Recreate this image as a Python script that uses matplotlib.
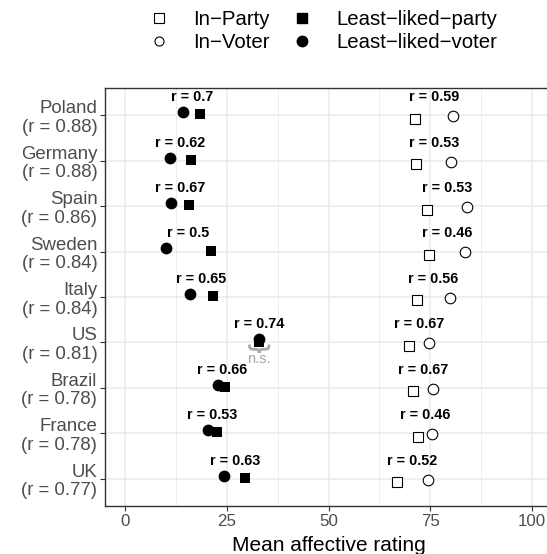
import matplotlib
matplotlib.use("Agg")
import matplotlib.pyplot as plt
from matplotlib.path import Path
from matplotlib.patches import PathPatch
from matplotlib.lines import Line2D
from matplotlib.ticker import MultipleLocator

plt.rcParams['font.family'] = ['Liberation Sans', 'DejaVu Sans']

# data
countries = ["Poland", "Germany", "Spain", "Sweden", "Italy", "US", "Brazil", "France", "UK"]
country_r = ["0.88", "0.88", "0.86", "0.84", "0.84", "0.81", "0.78", "0.78", "0.77"]

ll_voter = [14.3, 10.9, 11.3, 10.0, 15.8, 33.0, 22.9, 20.3, 24.4]
ll_party = [18.4, 16.1, 15.6, 21.1, 21.6, 32.9, 24.6, 22.5, 29.5]
in_party = [71.3, 71.6, 74.3, 74.8, 71.7, 69.7, 70.7, 72.0, 66.8]
in_voter = [80.6, 80.2, 84.0, 83.6, 79.9, 74.8, 75.8, 75.4, 74.4]

r_ll = ["0.7", "0.62", "0.67", "0.5", "0.65", "0.74", "0.66", "0.53", "0.63"]
r_in = ["0.59", "0.53", "0.53", "0.46", "0.56", "0.67", "0.67", "0.46", "0.52"]
ns_country = "US"

# small vertical dodge per series
dodge = {"ll_voter": -0.07, "ll_party": -0.02, "in_voter": 0.02, "in_party": 0.075}

fig = plt.figure(figsize=(5.47, 5.54), dpi=100)
ax = fig.add_axes([105/547, 48/554, 447/547, 418/554])

rows = list(range(len(countries)))

# grid like theme_bw
ax.set_xlim(-5, 105)
ax.set_ylim(len(countries) - 0.4, -0.6)
ax.xaxis.set_major_locator(MultipleLocator(25))
ax.xaxis.set_minor_locator(MultipleLocator(12.5))
ax.set_yticks(rows)
ax.grid(which='major', color='#EBEBEB', lw=1.1, zorder=0)
ax.grid(which='minor', axis='x', color='#EBEBEB', lw=0.6, zorder=0)
ax.set_axisbelow(True)
ax.tick_params(which='minor', length=0)
ax.tick_params(which='major', length=3.5, width=0.8, color='#333333', labelcolor='#4D4D4D')
ax.tick_params(axis='x', labelsize=12.2, pad=2.5)
ax.tick_params(axis='y', labelsize=13.4, pad=2)
for s in ax.spines.values():
    s.set_color('#333333')
    s.set_linewidth(1.0)

ax.set_yticklabels(["%s\n(r = %s)" % (c, r) for c, r in zip(countries, country_r)],
                   linespacing=1.12, ha='right')

ax.scatter(in_party, [y + dodge["in_party"] for y in rows], marker='s', s=50,
           facecolors='white', edgecolors='black', linewidths=0.8, zorder=3)
ax.scatter(in_voter, [y + dodge["in_voter"] for y in rows], marker='o', s=58,
           facecolors='white', edgecolors='black', linewidths=0.8, zorder=3)
ax.scatter(ll_party, [y + dodge["ll_party"] for y in rows], marker='s', s=56,
           color='black', linewidths=0, zorder=3)
ax.scatter(ll_voter, [y + dodge["ll_voter"] for y in rows], marker='o', s=72,
           color='black', linewidths=0, zorder=4)

# r labels above each pair
for y in rows:
    ax.text((ll_voter[y] + ll_party[y]) / 2, y - 0.4, "r = " + r_ll[y],
            ha='center', va='center', fontsize=10.4, fontweight='bold')
    ax.text((in_voter[y] + in_party[y]) / 2, y - 0.4, "r = " + r_in[y],
            ha='center', va='center', fontsize=10.4, fontweight='bold')


def brace(ax, xc, y0, half, depth, q, color):
    xl, xr = xc - half, xc + half
    y1 = y0 + depth * 0.5
    y2 = y0 + depth
    verts = [(xl, y0), (xl, y1), (xl + q, y1), (xc - q, y1), (xc, y1), (xc, y2),
             (xc, y1), (xc + q, y1), (xr - q, y1), (xr, y1), (xr, y0)]
    codes = [Path.MOVETO, Path.CURVE3, Path.CURVE3, Path.LINETO, Path.CURVE3, Path.CURVE3,
             Path.CURVE3, Path.CURVE3, Path.LINETO, Path.CURVE3, Path.CURVE3]
    ax.add_patch(PathPatch(Path(verts, codes), facecolor='none', edgecolor=color,
                           lw=2, capstyle='round', zorder=2))


ns_i = countries.index(ns_country)
ns_x = (ll_voter[ns_i] + ll_party[ns_i]) / 2
brace(ax, ns_x, ns_i + 0.07, 2.4, 0.16, 0.8, '#A8A8A8')
ax.text(ns_x, ns_i + 0.36, "n.s.", ha='center', va='center', fontsize=10.5, color='#A8A8A8')

ax.set_xlabel("Mean affective rating", fontsize=15, labelpad=5)

handles = [
    Line2D([], [], ls='none', marker='s', ms=6.5, mfc='white', mec='black', mew=0.8),
    Line2D([], [], ls='none', marker='o', ms=6.5, mfc='white', mec='black', mew=0.8),
    Line2D([], [], ls='none', marker='s', ms=7.5, mfc='black', mec='black'),
    Line2D([], [], ls='none', marker='o', ms=7.5, mfc='black', mec='black'),
]
labels = ["In\u2212Party", "In\u2212Voter", "Least\u2212liked\u2212party", "Least\u2212liked\u2212voter"]
fig.legend(handles, labels, ncol=2, loc='center', bbox_to_anchor=(323/547, 1 - 31/554),
           frameon=False, fontsize=14.7, handlelength=1.0, handletextpad=1.15,
           columnspacing=1.1, labelspacing=0.2, borderpad=0)

fig.savefig("out.png", dpi=100)
